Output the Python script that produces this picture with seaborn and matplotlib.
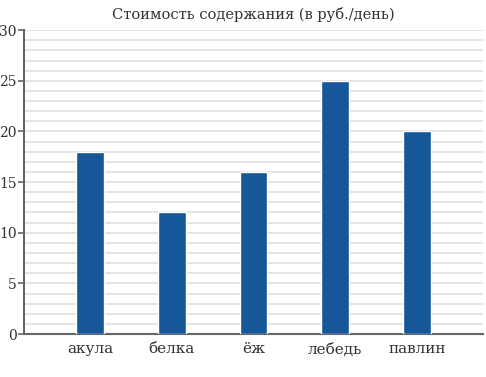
import matplotlib
matplotlib.use("Agg")
import matplotlib.pyplot as plt
import seaborn as sns
import pandas as pd
import numpy as np

animals = ["акула", "белка", "ёж", "лебедь", "павлин"]
costs = [18, 12, 16, 25, 20]
title = "Стоимость содержания (в руб./день)"

sns.set_theme(style="white")
plt.rcParams['font.family'] = 'serif'
plt.rcParams['font.serif'] = ['DejaVu Serif']

df = pd.DataFrame({"animal": animals, "cost": costs})

fig = plt.figure(figsize=(4.86, 3.77), dpi=100)
ax = fig.add_axes([0.049, 0.114, 0.945, 0.806])

sns.barplot(data=df, x="animal", y="cost", color="#155799", width=0.34,
            saturation=1, ax=ax, zorder=3)

ax.set_ylim(0, 30)
ax.set_xlim(-0.81, 4.81)
ax.set_yticks(range(0, 31, 5))
ax.set_yticks(np.arange(0, 31, 1), minor=True)
ax.grid(axis="y", which="both", color="#e2e2e2", linewidth=1.3, zorder=0)
ax.set_axisbelow(True)

for side in ["top", "right"]:
    ax.spines[side].set_visible(False)
for side in ["left", "bottom"]:
    ax.spines[side].set_color("#666666")
    ax.spines[side].set_linewidth(1.5)

ax.tick_params(axis="y", which="major", length=4, width=1.2, color="#666666",
               labelsize=10, labelcolor="#333333", pad=1, left=True)
ax.tick_params(axis="y", which="minor", length=0)
ax.tick_params(axis="x", length=0, labelsize=11, labelcolor="#333333", pad=6)

ax.set_xlabel("")
ax.set_ylabel("")
ax.set_title(title, fontsize=10.5, color="#333333", pad=8)

fig.savefig("out.png", dpi=100)
